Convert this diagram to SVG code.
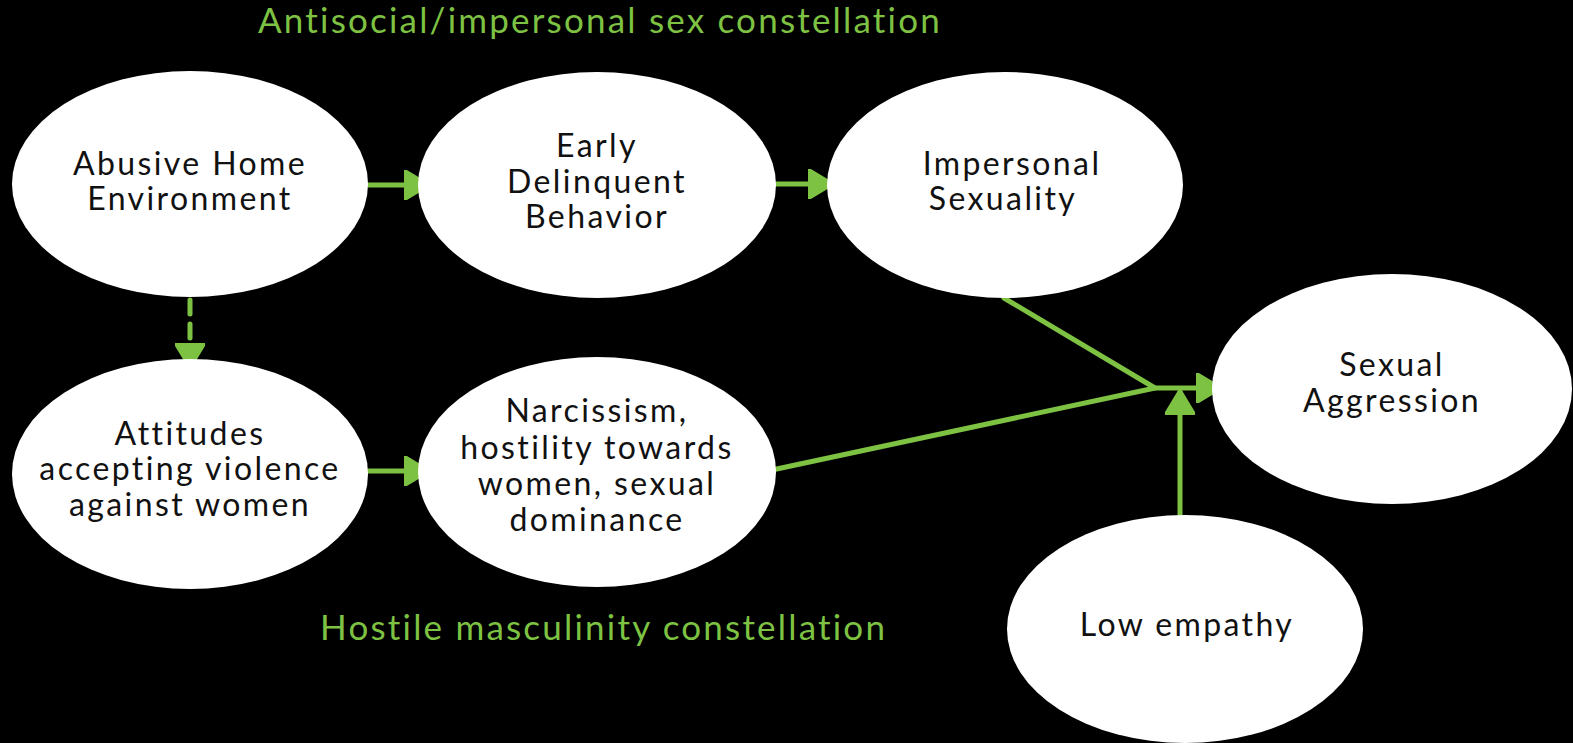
<svg xmlns="http://www.w3.org/2000/svg" width="1573" height="743" viewBox="0 0 1573 743">
<defs>
<style>
.node{fill:#ffffff}
.lbl{font-family:"Lato","Noto Sans",sans-serif;font-size:32px;letter-spacing:2.4px;font-variant-ligatures:none;fill:#111111;text-anchor:middle}
.ttl{font-family:"Lato","Noto Sans",sans-serif;font-size:35px;letter-spacing:2.2px;font-variant-ligatures:none;fill:#7DC242}
.edge{stroke:#7DC242;stroke-width:5;fill:none;stroke-linecap:round}
</style>
<marker id="arr" markerWidth="6" markerHeight="6" refX="4.6" refY="3" orient="auto" markerUnits="strokeWidth" viewBox="0 0 6 6">
<path d="M0,0 L5,3 L0,6 Z" fill="#7DC242" stroke="#7DC242" stroke-width="0.6" stroke-linejoin="round"/>
</marker>
</defs>
<rect width="1573" height="743" fill="#000000"/>
<text class="ttl" x="258" y="33">Antisocial/impersonal sex constellation</text>
<text class="ttl" x="320" y="640">Hostile masculinity constellation</text>
<g id="connectors">
<line class="edge" x1="364" y1="185" x2="427" y2="185" marker-end="url(#arr)"/>
<line class="edge" x1="769" y1="184" x2="831" y2="184" marker-end="url(#arr)"/>
<line class="edge" x1="190" y1="300" x2="190" y2="366" stroke-dasharray="14,10" stroke-linecap="butt" marker-end="url(#arr)"/>
<line class="edge" x1="364" y1="471" x2="427" y2="471" marker-end="url(#arr)"/>
<polyline class="edge" points="1004,298 1155,388 772,470" stroke-linejoin="round"/>
<line class="edge" x1="1155" y1="388" x2="1219" y2="388" marker-end="url(#arr)"/>
<line class="edge" x1="1180" y1="516" x2="1180" y2="392" stroke-linecap="butt" marker-end="url(#arr)"/>
</g>
<g id="abusive-home">
<ellipse class="node" cx="190" cy="184" rx="178" ry="113"/>
<text class="lbl" x="190" y="175">Abusive Home</text>
<text class="lbl" x="190" y="210">Environment</text>
</g>
<g id="early-delinquent">
<ellipse class="node" cx="597" cy="185" rx="179" ry="113"/>
<text class="lbl" x="597" y="157">Early</text>
<text class="lbl" x="597" y="193">Delinquent</text>
<text class="lbl" x="597" y="228">Behavior</text>
</g>
<g id="impersonal-sexuality">
<ellipse class="node" cx="1005" cy="185" rx="178" ry="113"/>
<text class="lbl" x="1012" y="175">Impersonal</text>
<text class="lbl" x="1003" y="210">Sexuality</text>
</g>
<g id="sexual-aggression">
<ellipse class="node" cx="1392" cy="389" rx="180" ry="115"/>
<text class="lbl" x="1392" y="376">Sexual</text>
<text class="lbl" x="1392" y="412">Aggression</text>
</g>
<g id="attitudes">
<ellipse class="node" cx="190" cy="474" rx="178" ry="115"/>
<text class="lbl" x="190" y="445">Attitudes</text>
<text class="lbl" x="190" y="480">accepting violence</text>
<text class="lbl" x="190" y="516">against women</text>
</g>
<g id="narcissism">
<ellipse class="node" cx="597" cy="472" rx="179" ry="115"/>
<text class="lbl" x="597" y="422">Narcissism,</text>
<text class="lbl" x="597" y="459">hostility towards</text>
<text class="lbl" x="597" y="495">women, sexual</text>
<text class="lbl" x="597" y="531">dominance</text>
</g>
<g id="low-empathy">
<ellipse class="node" cx="1185" cy="629" rx="178" ry="114"/>
<text class="lbl" x="1187" y="636">Low empathy</text>
</g>
</svg>
